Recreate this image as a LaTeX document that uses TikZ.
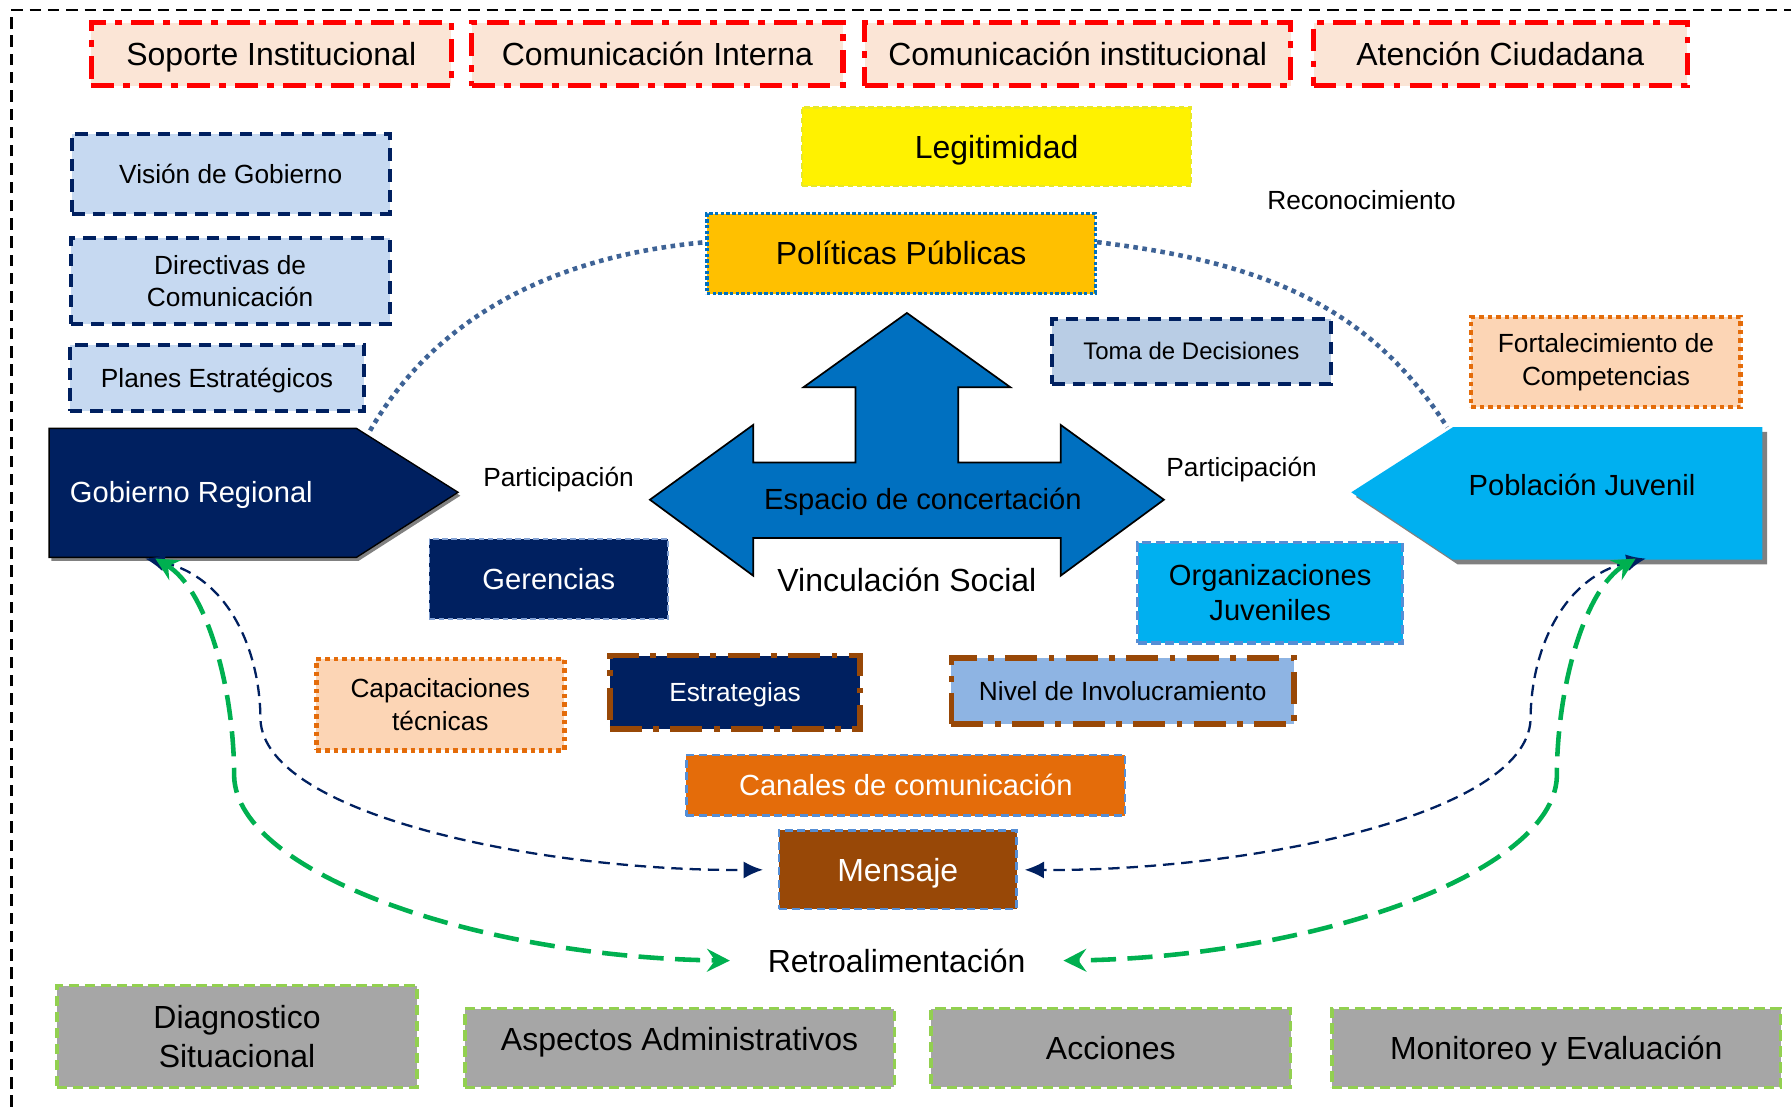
\documentclass[tikz,border=0pt]{standalone}
\usepackage{fontspec}
\setmainfont{Liberation Sans}
\usetikzlibrary{arrows.meta}
\definecolor{peach}{RGB}{251,229,214}
\definecolor{rred}{RGB}{255,0,0}
\definecolor{navy}{RGB}{0,32,96}
\definecolor{lblue}{RGB}{198,217,241}
\definecolor{tblue}{RGB}{185,205,229}
\definecolor{polyel}{RGB}{255,192,0}
\definecolor{pblue}{RGB}{0,112,192}
\definecolor{cyanf}{RGB}{0,176,240}
\definecolor{midblue}{RGB}{85,142,213}
\definecolor{nivelf}{RGB}{142,180,227}
\definecolor{brownb}{RGB}{152,72,7}
\definecolor{orangeb}{RGB}{228,108,10}
\definecolor{lorange}{RGB}{252,213,181}
\definecolor{greyf}{RGB}{166,166,166}
\definecolor{lgreen}{RGB}{146,208,80}
\definecolor{agreen}{RGB}{0,176,80}
\definecolor{dotc}{RGB}{62,99,150}
\definecolor{yelb}{RGB}{232,232,40}
\definecolor{gerb}{RGB}{130,160,210}
\begin{document}
\begin{tikzpicture}[x=1pt,y=-1pt,
  box/.style={rectangle, inner sep=0pt, align=center, text=black},
  slA/.style={text height=20pt, text depth=0pt},
  slB/.style={text height=18.4pt, text depth=0pt},
  slC/.style={text height=16.6pt, text depth=0pt},
  topbox/.style={box, slA, fill=peach, draw=rred, line width=4.5pt, dash pattern=on 20pt off 8pt on 6pt off 8pt, font=\fontsize{28}{33}\selectfont},
  navybox/.style={box, fill=lblue, draw=navy, line width=3.5pt, dash pattern=on 11pt off 7pt, font=\fontsize{23}{28}\selectfont},
  greybox/.style={box, fill=greyf, draw=lgreen, line width=3pt, dash pattern=on 9pt off 5pt, font=\fontsize{28}{35}\selectfont},
  orangedot/.style={box, fill=lorange, draw=orangeb, line width=4pt, dash pattern=on 4pt off 3.5pt, font=\fontsize{23}{29}\selectfont},
  browndd/.style={box, slC, draw=brownb, line width=5pt, dash pattern=on 28pt off 10pt on 5pt off 10pt, font=\fontsize{23}{28}\selectfont},
  bluedash/.style={box, draw=midblue, line width=2pt, dash pattern=on 7pt off 4pt},
  lbl/.style={inner sep=0pt, align=center, text=black},
  dotconn/.style={draw=dotc, line width=4pt, dash pattern=on 4pt off 4pt},
  navyconn/.style={draw=navy, line width=2pt, dash pattern=on 10pt off 6pt, {Latex[length=17pt,width=15pt]}-{Latex[length=17pt,width=15pt]}},
  greenconn/.style={draw=agreen, line width=4pt, dash pattern=on 22pt off 10pt, {Stealth[length=20pt,width=20pt,inset=7pt]}-{Stealth[length=20pt,width=20pt,inset=7pt]}}
]
\useasboundingbox (0,0) rectangle (1568,969);
\fill[white] (0,0) rectangle (1568,969);
% outer dashed frame
\draw[black, line width=2pt, dash pattern=on 10pt off 6pt] (10,969) -- (10,9) -- (1568,9);

% top row
\node[topbox, minimum width=315pt, minimum height=55pt] (soporte) at (237.5,47.5) {Soporte Institucional};
\node[topbox, minimum width=325pt, minimum height=55pt] (cint) at (575.5,47.5) {Comunicación Interna};
\node[topbox, minimum width=373pt, minimum height=55pt] (cinst) at (943.5,47.5) {Comunicación institucional};
\node[topbox, minimum width=327pt, minimum height=55pt] (atencion) at (1313.5,47.5) {Atención Ciudadana};

% Legitimidad, Politicas
\node[box, slA, fill=yellow, draw=yelb, line width=2pt, dash pattern=on 5pt off 3pt, minimum width=341pt, minimum height=69pt, font=\fontsize{28}{33}\selectfont] (legit) at (872.5,128.5) {Legitimidad};
\node[lbl, slC, font=\fontsize{23}{28}\selectfont] (reconoc) at (1192,175) {Reconocimiento};
\node[box, slA, fill=polyel, draw=pblue, line width=3pt, dash pattern=on 3pt off 2pt, minimum width=340pt, minimum height=70pt, font=\fontsize{28}{33}\selectfont] (politicas) at (789,222) {Políticas Públicas};

% left column
\node[navybox, slC, minimum width=278pt, minimum height=70pt] (vision) at (202,152) {Visión de Gobierno};
\node[navybox, minimum width=279pt, minimum height=76pt] (directivas) at (201.5,246) {Directivas de\\Comunicación};
\node[navybox, slC, minimum width=258pt, minimum height=58pt] (planes) at (190,331) {Planes Estratégicos};

% right upper
\node[navybox, fill=tblue, text height=15.2pt, text depth=0pt, minimum width=244pt, minimum height=57pt, font=\fontsize{21}{26}\selectfont] (toma) at (1043,307.5) {Toma de Decisiones};
\node[orangedot, minimum width=236pt, minimum height=79pt] (fortal) at (1406,317) {Fortalecimiento de\\Competencias};

% Gobierno Regional pentagon
\fill[gray] (45,378) -- (314,378) -- (403,434) -- (314,491) -- (45,491) -- cycle;
\filldraw[fill=navy, draw=black, line width=1.2pt] (43,375) -- (312,375) -- (401,431) -- (312,488) -- (43,488) -- cycle;
\node[lbl, slB, anchor=west, text=white, font=\fontsize{25.5}{30}\selectfont] (gobierno) at (61,431) {Gobierno Regional};
\coordinate (gobShoulder) at (324,377);
\coordinate (gobNavy) at (127,489);
\coordinate (gobGreen) at (136,489);

% Poblacion Juvenil pentagon
\fill[gray] (1187,435) -- (1276,378) -- (1547,378) -- (1547,494) -- (1276,494) -- cycle;
\fill[cyanf] (1183,431) -- (1272,374) -- (1543,374) -- (1543,490) -- (1272,490) -- cycle;
\node[lbl, slB, font=\fontsize{25.5}{30}\selectfont] (poblacion) at (1385,425) {Población Juvenil};
\coordinate (pobShoulder) at (1267,374);
\coordinate (pobNavy) at (1441,489);
\coordinate (pobGreen) at (1432,489);

% central three-way arrow
\filldraw[fill=pblue, draw=black, line width=1.5pt]
  (794,274) -- (884.5,339) -- (839,339) -- (839,405) -- (928.6,405) -- (928.6,372) -- (1019,437.5)
  -- (928.6,504) -- (928.6,471) -- (659.4,471) -- (659.4,504) -- (569,437.5) -- (659.4,372)
  -- (659.4,405) -- (749,405) -- (749,339) -- (703.5,339) -- cycle;
\node[lbl, slB, font=\fontsize{25.5}{30}\selectfont] (espacio) at (808,437) {Espacio de concertación};
\node[lbl, slA, font=\fontsize{28}{33}\selectfont] (vinc) at (794,508) {Vinculación Social};
\node[lbl, slC, font=\fontsize{23}{28}\selectfont] (partL) at (489,418) {Participación};
\node[lbl, slC, font=\fontsize{23}{28}\selectfont] (partR) at (1087,409) {Participación};

% middle boxes
\node[box, slB, fill=navy, draw=gerb, line width=1.5pt, dash pattern=on 5pt off 3pt, text=white, minimum width=209pt, minimum height=70pt, font=\fontsize{25.5}{30}\selectfont] (gerencias) at (480.5,507) {Gerencias};
\node[box, fill=cyanf, draw=midblue, line width=3pt, dash pattern=on 8pt off 4pt, minimum width=232pt, minimum height=88pt, font=\fontsize{25.5}{31}\selectfont] (orgs) at (1112,519) {Organizaciones\\Juveniles};
\node[orangedot, minimum width=217pt, minimum height=80pt] (capac) at (385.5,617) {Capacitaciones\\técnicas};
\node[browndd, fill=navy, text=white, minimum width=219pt, minimum height=64pt] (estrat) at (643.5,606) {Estrategias};
\node[browndd, fill=nivelf, minimum width=300pt, minimum height=58pt] (nivel) at (983,605) {Nivel de Involucramiento};
\node[bluedash, slB, fill=orangeb, text=white, minimum width=384pt, minimum height=53pt, font=\fontsize{25.5}{30}\selectfont] (canales) at (793,687.5) {Canales de comunicación};
\node[bluedash, slA, fill=brownb, text=white, minimum width=208pt, minimum height=69pt, font=\fontsize{28}{33}\selectfont] (mensaje) at (786,761.5) {Mensaje};
\node[lbl, slA, font=\fontsize{28}{33}\selectfont] (retro) at (785,841) {Retroalimentación};

% bottom row
\node[greybox, minimum width=315pt, minimum height=89pt] (diag) at (207.5,907.5) {Diagnostico\\Situacional};
\node[greybox, minimum width=376pt, minimum height=69pt] (aspectos) at (595,917.5) {};
\node[lbl, slA, font=\fontsize{28}{33}\selectfont] (aspectosT) at ([yshift=7.5pt]aspectos.center) {Aspectos Administrativos};
\node[greybox, slA, minimum width=315pt, minimum height=69pt] (acciones) at (972.5,917.5) {Acciones};
\node[greybox, slA, minimum width=393pt, minimum height=69pt] (monitoreo) at (1362.5,917.5) {Monitoreo y Evaluación};

% connectors
\draw[dotconn] (gobShoulder) .. controls (380,280) and (480,225) .. ([yshift=10pt]politicas.west);
\draw[dotconn] ([yshift=10pt]politicas.east) .. controls (1110,230) and (1200,270) .. (pobShoulder);

\draw[navyconn] (gobNavy) .. controls (200,505) and (228,570) .. (228,630) .. controls (232,715) and (480,763) .. ([xshift=-13pt]mensaje.west);
\draw[navyconn] (pobNavy) .. controls (1368,505) and (1340,570) .. (1340,630) .. controls (1336,715) and (1088,763) .. ([xshift=6pt]mensaje.east);

\draw[greenconn] (gobGreen) .. controls (180,515) and (205,600) .. (205,680) .. controls (208,765) and (420,838) .. ([xshift=-33pt]retro.west);
\draw[greenconn] (pobGreen) .. controls (1388,515) and (1363,600) .. (1363,680) .. controls (1360,765) and (1148,838) .. ([xshift=33pt]retro.east);
\end{tikzpicture}
\end{document}
